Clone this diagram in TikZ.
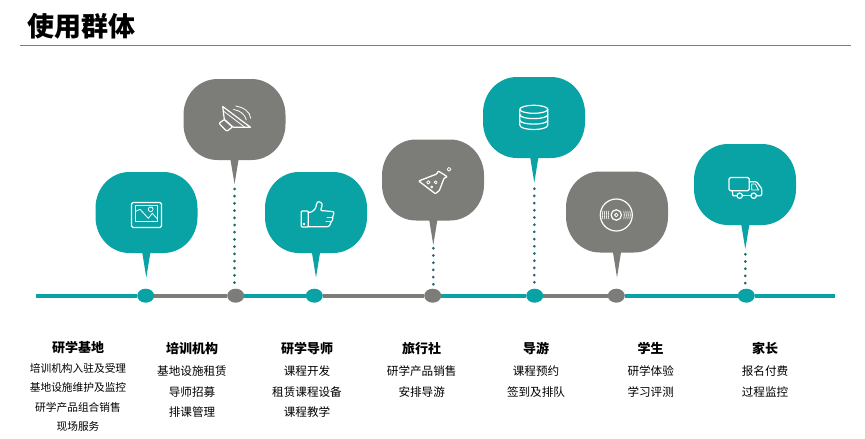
\documentclass[tikz,border=0pt]{standalone}
\usepackage{fontspec}
\setmainfont{Noto Sans CJK SC}
\usetikzlibrary{shapes.geometric}
\definecolor{tealc}{RGB}{10,163,165}
\definecolor{grayc}{RGB}{124,125,121}
\definecolor{dotgreen}{RGB}{22,108,98}
\definecolor{dotblue}{RGB}{40,104,118}
\newcommand{\mybubble}[6]{% name, left, top, tipx, tipy, colour
  \fill[#6] (#2+34,#3) -- (#2+68,#3) .. controls (#2+87,#3) and (#2+102,#3+16) .. (#2+102,#3+36)
    -- (#2+102,#3+45) .. controls (#2+102,#3+65) and (#2+87,#3+81) .. (#2+68,#3+81)
    -- (#4+4,#3+81) -- (#4,#5) -- (#4-4,#3+81)
    -- (#2+34,#3+81) .. controls (#2+15,#3+81) and (#2,#3+65) .. (#2,#3+45)
    -- (#2,#3+36) .. controls (#2,#3+16) and (#2+15,#3) .. (#2+34,#3) -- cycle;
  \coordinate (#1) at (#4,#5);
}
\tikzset{
  x=1pt,y=-1pt,
  dotnode/.style={ellipse,minimum width=17pt,minimum height=14pt,inner sep=0pt,fill=#1},
  bar/.style={line width=4pt,draw=#1},
  dotline/.style={line width=3pt,line cap=round,dash pattern=on 0pt off 7.2pt,draw=#1},
  icon/.style={draw=white,line width=1.2pt,line join=round,line cap=round},
  iconthin/.style={draw=white,line width=0.8pt,line join=round,line cap=round},
  head/.style={font=\bfseries\fontsize{13}{15}\selectfont,text=black,inner sep=0pt},
  body/.style={font=\fontsize{11.6}{14}\selectfont,text=black,inner sep=0pt},
  small/.style={font=\fontsize{10.7}{13}\selectfont,text=black,inner sep=0pt},
  titletext/.style={font=\bfseries\fontsize{27}{30}\selectfont,text=black,inner sep=0pt,anchor=west},
}
\begin{document}
\begin{tikzpicture}
\useasboundingbox (0,0) rectangle (865,439);
% title
\node[titletext] (title) at (27.5,26.5) {使用群体};
\coordinate (ruleL) at (20,45.5);
\coordinate (ruleR) at (851,45.5);
\draw[grayc,line width=1pt] (ruleL) -- (ruleR);
% timeline nodes
\node[dotnode=tealc] (d1) at (145.7,295.7) {};
\node[dotnode=grayc] (d2) at (235.7,295.7) {};
\node[dotnode=tealc] (d3) at (314.3,295.7) {};
\node[dotnode=grayc] (d4) at (432.7,295.7) {};
\node[dotnode=tealc] (d5) at (534.7,295.7) {};
\node[dotnode=grayc] (d6) at (616.3,295.7) {};
\node[dotnode=tealc] (d7) at (746.3,295.7) {};
\coordinate (lineL) at (36,295.7);
\coordinate (lineR) at (835,295.7);
\draw[bar=tealc] (lineL) -- (d1);
\draw[bar=grayc] (d1) -- (d2);
\draw[bar=tealc] (d2) -- (d3);
\draw[bar=grayc] (d3) -- (d4);
\draw[bar=tealc] (d4) -- (d5);
\draw[bar=grayc] (d5) -- (d6);
\draw[bar=tealc] (d6) -- (d7);
\draw[bar=tealc] (d7) -- (lineR);
% bubbles
\mybubble{t1}{95.5}{172}{146.3}{277.5}{tealc}
\mybubble{t2}{183.5}{79}{234.5}{184}{grayc}
\mybubble{t3}{265}{172}{316}{277.5}{tealc}
\mybubble{t4}{382}{139.5}{433.3}{245}{grayc}
\mybubble{t5}{483}{77}{534.3}{182.7}{tealc}
\mybubble{t6}{566}{171.5}{617}{277.5}{grayc}
\mybubble{t7}{694}{144}{745.3}{249}{tealc}
% dotted connectors
\draw[dotline=dotgreen,shorten <=5pt] (t2) -- (t2 |- d2.north);
\draw[dotline=dotblue,shorten <=3.3pt] (t4) -- (t4 |- d4.north);
\draw[dotline=dotblue,shorten <=6pt] (t5) -- (t5 |- d5.north);
\draw[dotline=dotgreen,shorten <=5.3pt] (t7) -- (t7 |- d7.north);
% icon 1: picture
\draw[icon,rounded corners=1.5pt] (131.5,202.5) rectangle (161.5,227.5);
\draw[iconthin] (135.3,205) rectangle (157.7,221);
\draw[iconthin] (135.5,211.5) -- (140,209.3) -- (148.3,218.3) -- (152.3,213.3) -- (157.5,219);
\draw[iconthin] (150.7,209.3) circle (2.4);
% icon 2: speaker
\draw[icon] (222.7,106.5) -- (250.5,127.3) -- (233.3,127.3) -- (224.3,119.5) -- cycle;
\draw[iconthin] (224,111.5) -- (244.5,127);
\draw[icon,rounded corners=1pt] (219,123.3) -- (224.3,119.5) -- (232.5,127) -- (226.7,131.3) -- cycle;
\draw[iconthin] (235.7,106) .. controls (243,107) and (250.5,112) .. (250.7,118.3);
\draw[iconthin] (233.5,109.5) .. controls (239,110) and (245,114) .. (246.3,120);
% icon 3: thumb
\draw[icon,rounded corners=0.8pt] (301.3,211) rectangle (308.3,227);
\fill[white] (303,222.5) rectangle (305,224.5);
\draw[icon,rounded corners=1pt] (308.3,212.5) -- (311.5,212) .. controls (315.5,209.5) and (316.5,206) .. (316.7,203)
  .. controls (318.5,201) and (322.5,202.5) .. (322,206) -- (320.5,210.5) -- (332,211.5)
  .. controls (334.5,212) and (333.5,216) .. (332,217) .. controls (333.5,218) and (332,221.5) .. (330.5,221.5)
  .. controls (331,223) and (329.5,226) .. (328,226.7) -- (308.3,226.7);
\draw[iconthin] (327,217) -- (332,217);
\draw[iconthin] (326,221.5) -- (330.5,221.5);
% icon 4: flask
\draw[icon,line width=1.3pt,rounded corners=0.8pt] (418.7,181) -- (436.7,174) -- (438.3,171) -- (447.3,176.7) -- (444,178.3)
  -- (439.3,190.7) -- (435.3,193.7) -- cycle;
\draw[iconthin] (449,169.3) circle (1.9);
\draw[iconthin] (428.3,182.3) circle (1.7);
\draw[iconthin] (435.7,182.3) circle (1.5);
\draw[iconthin] (431.7,187) circle (1.1);
% icon 5: database
\draw[icon] (533.8,109.3) ellipse (14 and 4);
\draw[icon] (519.8,109.3) -- (519.8,125) .. controls (519.8,131) and (547.8,131) .. (547.8,125) -- (547.8,109.3);
\draw[icon] (519.8,114.5) .. controls (519.8,120) and (547.8,120) .. (547.8,114.5);
\draw[icon] (519.8,120) .. controls (519.8,125.5) and (547.8,125.5) .. (547.8,120);
% icon 6: disc
\draw[icon] (616.3,215) circle (16);
\draw[icon] (616.3,215) ellipse (5.2 and 5.2);
\draw[iconthin] (616.3,215) circle (1.8);
\foreach \r in {7.5,9.5,11.5,13.5}{
  \draw[iconthin,line width=0.6pt] (616.3-\r,211) .. controls (616.3-\r-0.7,213.5) and (616.3-\r-0.7,216.5) .. (616.3-\r,219);
  \draw[iconthin,line width=0.6pt] (616.3+\r,211) .. controls (616.3+\r+0.7,213.5) and (616.3+\r+0.7,216.5) .. (616.3+\r,219);
}
% icon 7: truck
\draw[icon,rounded corners=1.5pt] (729,177.5) rectangle (749.3,190.7);
\draw[icon,rounded corners=1.2pt] (749.3,181.7) -- (756.5,181.7) -- (761.7,188.5) -- (761.7,195.7) -- (757,195.7);
\draw[icon] (750.5,195.7) -- (742.8,195.7);
\draw[icon] (736.8,195.7) -- (733,195.7) -- (732.2,190.7);
\draw[iconthin] (751.7,184) -- (755.5,184) -- (758.5,190) -- (751.7,190) -- cycle;
\draw[icon] (739.7,195.7) circle (2.7);
\draw[icon] (753.7,195.7) circle (2.7);
% column 1
\node[head] (h1) at (78,348) {研学基地};
\node[small] (a1) at (78,368) {培训机构入驻及受理};
\node[small] (a2) at (78,387) {基地设施维护及监控};
\node[small] (a3) at (78,407) {研学产品组合销售};
\node[small] (a4) at (78,426) {现场服务};
% column 2
\node[head] (h2) at (192,348.5) {培训机构};
\node[body] (b1) at (192,371) {基地设施租赁};
\node[body] (b2) at (192,392) {导师招募};
\node[body] (b3) at (192,412) {排课管理};
% column 3
\node[head] (h3) at (307,348.5) {研学导师};
\node[body] (c1) at (307,371) {课程开发};
\node[body] (c2) at (307,392) {租赁课程设备};
\node[body] (c3) at (307,412) {课程教学};
% column 4
\node[head] (h4) at (421.7,348.5) {旅行社};
\node[body] (e1) at (421.7,371) {研学产品销售};
\node[body] (e2) at (421.7,392) {安排导游};
% column 5
\node[head] (h5) at (536,348.5) {导游};
\node[body] (f1) at (536,371) {课程预约};
\node[body] (f2) at (536,392) {签到及排队};
% column 6
\node[head] (h6) at (650.7,348.5) {学生};
\node[body] (g1) at (650.7,371) {研学体验};
\node[body] (g2) at (650.7,392) {学习评测};
% column 7
\node[head] (h7) at (765,348.5) {家长};
\node[body] (k1) at (765,371) {报名付费};
\node[body] (k2) at (765,392) {过程监控};
\end{tikzpicture}
\end{document}
